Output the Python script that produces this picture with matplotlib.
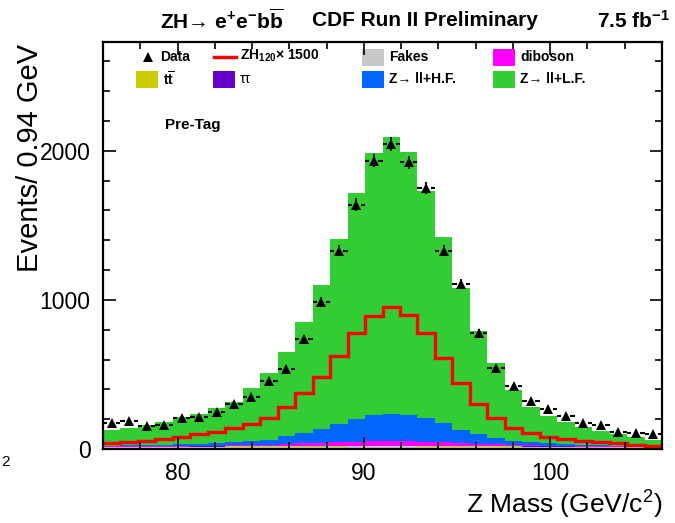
import numpy as np
import matplotlib.pyplot as plt
from matplotlib.patches import Rectangle
from matplotlib.lines import Line2D
from matplotlib.ticker import MultipleLocator

plt.rcParams['font.family'] = ['Liberation Sans', 'DejaVu Sans']
plt.rcParams['mathtext.fontset'] = 'custom'
plt.rcParams['mathtext.rm'] = 'Liberation Sans'
plt.rcParams['mathtext.bf'] = 'Liberation Sans:bold'
plt.rcParams['mathtext.it'] = 'Liberation Sans:italic'

# 32 bins between 76 and 106 GeV (0.94 GeV each)
MASS_LO, MASS_HI, N_BINS = 76.0, 106.0, 32
edges = np.linspace(MASS_LO, MASS_HI, N_BINS + 1)
centers = 0.5 * (edges[:-1] + edges[1:])

data_counts = [172, 188, 157, 161, 206, 213, 246, 300, 351, 459, 535, 736,
               987, 1331, 1640, 1933, 2045, 1922, 1749, 1331, 1107, 776, 541, 425,
               324, 268, 221, 177, 161, 116, 109, 101]

fakes = [12, 12, 12, 13, 13, 13, 13, 14, 14, 14, 15, 15, 16, 16, 17, 17,
         17, 17, 16, 16, 15, 15, 14, 14, 13, 13, 13, 12, 12, 12, 12, 12]
ttbar = [2, 2, 2, 2, 2, 3, 3, 3, 3, 3, 3, 3, 3, 3, 3, 3,
         3, 3, 3, 3, 3, 3, 3, 3, 3, 3, 3, 2, 2, 2, 2, 2]
tautau = [1, 1, 1, 1, 1, 1, 1, 2, 2, 2, 2, 2, 2, 2, 2, 2,
          2, 2, 2, 2, 2, 2, 2, 2, 1, 1, 1, 1, 1, 1, 1, 1]
diboson = [3, 3, 4, 4, 5, 5, 6, 7, 9, 11, 14, 17, 21, 25, 28, 31,
           32, 31, 28, 24, 19, 15, 12, 9, 7, 6, 5, 4, 4, 3, 3, 3]
z_hf = [5, 6, 7, 9, 10, 13, 17, 22, 27, 32, 50, 69, 92, 124, 149, 174,
        182, 178, 158, 127, 87, 64, 41, 28, 23, 15, 11, 7, 5, 4, 2, 1]
z_lf = [105, 117, 135, 153, 181, 198, 238, 270, 352, 446, 566, 743,
        964, 1239, 1515, 1760, 1857, 1763, 1522, 1248, 953, 694, 507, 340,
        235, 184, 148, 120, 100, 79, 59, 43]

zh_signal_x1500 = [38, 49, 56, 65, 83, 101, 116, 139, 168, 210, 284, 378,
                   485, 624, 776, 893, 951, 899, 776, 608, 441, 302, 206, 143,
                   105, 83, 65, 54, 45, 38, 27, 22]

# bottom to top
stack = [
    ('Fakes', fakes, '#c8c8c8'),
    (r't$\overline{\mathbf{t}}$', ttbar, '#cccc00'),
    ('ττ', tautau, '#6600cc'),
    ('diboson', diboson, '#ff00ff'),
    ('Z→ ll+H.F.', z_hf, '#0066ff'),
    ('Z→ ll+L.F.', z_lf, '#33cc33'),
]

W, H = 675, 523
fig = plt.figure(figsize=(W / 100, H / 100), dpi=100)
ax = fig.add_axes([103 / W, 1 - 449 / H, 559 / W, 407 / H])

base = np.zeros(N_BINS)
for name, vals, col in stack:
    top = base + np.asarray(vals, dtype=float)
    ax.stairs(top, edges, baseline=base.copy(), fill=True, color=col, lw=0)
    base = top

ax.stairs(zh_signal_x1500, edges, baseline=None, color='#ff0000', lw=2.4)

# data points with ROOT-style error bars
data = np.asarray(data_counts, dtype=float)
gap = 0.24
ax.hlines(data, edges[:-1], centers - gap, color='black', lw=1.5)
ax.hlines(data, centers + gap, edges[1:], color='black', lw=1.5)
err = np.sqrt(data)
ax.vlines(centers, data - err, data + err, color='black', lw=1.3)
ax.plot(centers, data, '^', color='black', ms=6.5, mew=0)

ax.set_xlim(MASS_LO, MASS_HI)
ax.set_ylim(0, 2730)
ax.xaxis.set_major_locator(MultipleLocator(10))
ax.xaxis.set_minor_locator(MultipleLocator(2))
ax.yaxis.set_major_locator(MultipleLocator(1000))
ax.yaxis.set_minor_locator(MultipleLocator(200))
ax.tick_params(which='both', direction='in', top=True, right=True,
               width=1.2, labelsize=16.5, pad=9)
ax.tick_params(which='major', length=9)
ax.tick_params(which='minor', length=5)
for sp in ax.spines.values():
    sp.set_linewidth(1.6)

fig.text(30 / W, 1 - 44 / H, 'Events/ 0.94 GeV', rotation=90,
         ha='center', va='top', fontsize=21)
fig.text(662 / W, 1 - 505 / H, r'Z Mass (GeV/c$^2$)', ha='right',
         va='center', fontsize=19)
# leftover glyph at the lower left border
fig.text(1 / W, 1 - 462 / H, '2', ha='left', va='center', fontsize=11)

# header line
fig.text(160 / W, 1 - 21 / H,
         r'ZH→ e$^{\mathbf{+}}$e$^{\mathbf{-}}$b$\overline{\mathbf{b}}$',
         ha='left', va='center', fontsize=15, fontweight='bold')
fig.text(312 / W, 1 - 21 / H, 'CDF Run II Preliminary', ha='left',
         va='center', fontsize=15, fontweight='bold')
fig.text(670 / W, 1 - 21 / H, r'7.5 fb$^{\mathbf{-1}}$', ha='right',
         va='center', fontsize=15, fontweight='bold')


def px(x, y):
    return (x - 103) / 559, (449 - y) / 407


# legend, two rows of four entries
tr = ax.transAxes
mx, my = px(148, 57)
ax.add_line(Line2D([mx], [my], marker='^', color='black', ms=6.5, mew=0,
                   transform=tr))
ax.text(*px(160, 57), 'Data', transform=tr, fontsize=10,
        fontweight='bold', va='center')
x0, y0 = px(214, 57)
x1, _ = px(236, 57)
ax.add_line(Line2D([x0, x1], [y0, y0], color='#ff0000', lw=2.5, transform=tr))
ax.text(*px(240, 56), r'ZH$_{\mathbf{120}}$× 1500', transform=tr,
        fontsize=10, fontweight='bold', va='center')

legend_boxes = [
    (362, 57, stack[0][0], '#c8c8c8', 'bold'),
    (493, 57, stack[3][0], '#ff00ff', 'bold'),
    (136, 79, stack[1][0], '#cccc00', 'bold'),
    (213, 79, stack[2][0], '#6600cc', 'normal'),
    (362, 79, stack[4][0], '#0066ff', 'bold'),
    (493, 79, stack[5][0], '#33cc33', 'bold'),
]
bw, bh = 22 / 559, 17 / 407
for bx, by, label, col, weight in legend_boxes:
    lx, ly = px(bx, by)
    ax.add_patch(Rectangle((lx, ly - bh / 2), bw, bh, transform=tr,
                           color=col, lw=0))
    ax.text(*px(bx + 27, by), label, transform=tr, fontsize=10,
            fontweight=weight, va='center')

ax.text(*px(165, 125), 'Pre-Tag', transform=tr, fontsize=11,
        fontweight='bold', va='center')

fig.savefig('out.png', dpi=100)
